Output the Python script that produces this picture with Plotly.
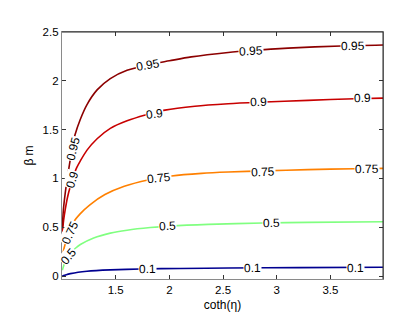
import plotly.graph_objects as go

# contour levels and colours
levels = ["0.1", "0.5", "0.75", "0.9", "0.95"]
colors = ["#000090", "#80FF80", "#FF8000", "#C80000", "#8C0000"]

# curves (x = coth(eta), y = beta m)
x_01 = [1.0, 1.016, 1.04, 1.078, 1.15, 1.233, 1.45, 1.73, 2.1, 2.55, 3.2, 3.99]
y_01 = [-0.005, 0.005, 0.014, 0.025, 0.04, 0.05, 0.063, 0.073, 0.078, 0.083, 0.087, 0.09]

x_05 = [1.003, 1.02, 1.04, 1.064, 1.095, 1.125, 1.171, 1.295, 1.45, 1.606, 1.822, 2.0, 2.362, 2.873, 3.29, 3.99]
y_05 = [0.06, 0.12, 0.165, 0.21, 0.255, 0.285, 0.323, 0.39, 0.44, 0.47, 0.497, 0.512, 0.53, 0.543, 0.55, 0.557]

x_075 = [1.003, 1.02, 1.045, 1.073, 1.109, 1.171, 1.26, 1.40, 1.58, 1.80, 2.02, 2.3, 2.548, 2.873, 3.29, 3.727, 3.99]
y_075 = [0.20, 0.29, 0.38, 0.46, 0.555, 0.64, 0.73, 0.835, 0.92, 0.985, 1.025, 1.052, 1.066, 1.078, 1.09, 1.1, 1.103]

x_09 = [1.004, 1.015, 1.03, 1.05, 1.075, 1.10, 1.137, 1.171, 1.233, 1.327, 1.45, 1.606, 1.776, 1.959, 2.238, 2.548, 2.83, 3.293, 3.727, 3.99]
y_09 = [0.45, 0.57, 0.68, 0.80, 0.91, 1.00, 1.11, 1.18, 1.29, 1.407, 1.513, 1.59, 1.65, 1.70, 1.74, 1.765, 1.78, 1.80, 1.817, 1.823]

x_095 = [1.003, 1.013, 1.029, 1.044, 1.069, 1.095, 1.122, 1.171, 1.233, 1.327, 1.45, 1.606, 1.804, 2.0, 2.204, 2.548, 2.762, 3.106, 3.599, 3.99]
y_095 = [0.50, 0.68, 0.84, 0.96, 1.14, 1.31, 1.45, 1.607, 1.757, 1.907, 2.023, 2.107, 2.165, 2.205, 2.245, 2.29, 2.31, 2.335, 2.357, 2.367]

curves_x = [x_01, x_05, x_075, x_09, x_095]
curves_y = [y_01, y_05, y_075, y_09, y_095]

# inline contour labels: level, x, y, angle
label_level = ["0.95", "0.9", "0.75", "0.5",
               "0.95", "0.95", "0.95",
               "0.9", "0.9", "0.9",
               "0.75", "0.75", "0.75",
               "0.5", "0.5",
               "0.1", "0.1", "0.1"]
label_x = [1.101, 1.101, 1.073, 1.064,
           1.804, 2.762, 3.715,
           1.86, 2.83, 3.80,
           1.90, 2.873, 3.84,
           1.98, 2.95,
           1.80, 2.77, 3.73]
label_y = [1.305, 0.99, 0.445, 0.205,
           2.165, 2.31, 2.355,
           1.665, 1.78, 1.82,
           1.005, 1.07, 1.095,
           0.515, 0.54,
           0.075, 0.08, 0.085]
label_angle = [-76, -72, -65, -50,
               -10, -3, -1,
               -7, -2, -1,
               -6, -2, -1,
               -3, -1,
               -1, -1, -1]

x_ticks = [1.5, 2, 2.5, 3, 3.5]
y_ticks = [0, 0.5, 1, 1.5, 2, 2.5]
y_ticktext = ["0", "0.5", "1", "1.5", "2", "2.5"]

FONT = "Liberation Sans, Arial, Helvetica, sans-serif"

fig = go.Figure()
for cx, cy, col, lev in zip(curves_x, curves_y, colors, levels):
    fig.add_trace(go.Scatter(x=cx, y=cy, mode="lines", name=lev,
                             line=dict(color=col, width=1.6, shape="spline", smoothing=0.8),
                             hoverinfo="skip"))

for t, lx, ly, a in zip(label_level, label_x, label_y, label_angle):
    fig.add_annotation(x=lx, y=ly, text=t, showarrow=False, textangle=a,
                       font=dict(family=FONT, size=12, color="black"),
                       bgcolor="white", borderpad=0)

axis_common = dict(showgrid=False, zeroline=False, showline=True, linecolor="#8a8a8a",
                   linewidth=1.2, mirror="ticks", ticks="inside", ticklen=4,
                   tickcolor="#333333", tickfont=dict(family=FONT, size=11.5, color="black"))

fig.update_xaxes(range=[1, 3.99], tickvals=x_ticks, ticktext=[str(v) for v in x_ticks],
                 title=dict(text="coth(η)", font=dict(family=FONT, size=12, color="black"), standoff=5),
                 **axis_common)
fig.update_yaxes(range=[-0.03, 2.5], tickvals=y_ticks, ticktext=y_ticktext,
                 title=dict(text="β m", font=dict(family=FONT, size=12, color="black"), standoff=6),
                 **axis_common)

# darker top and right frame edges
fig.add_shape(type="line", xref="paper", yref="paper", x0=0, x1=1, y0=1, y1=1,
              line=dict(color="#262626", width=1))
fig.add_shape(type="line", xref="paper", yref="paper", x0=1, x1=1, y0=0, y1=1,
              line=dict(color="#262626", width=1))

fig.update_layout(width=415, height=313, margin=dict(l=54, r=40, t=24, b=36),
                  plot_bgcolor="white", paper_bgcolor="white", showlegend=False)

fig.write_html("out.html")
